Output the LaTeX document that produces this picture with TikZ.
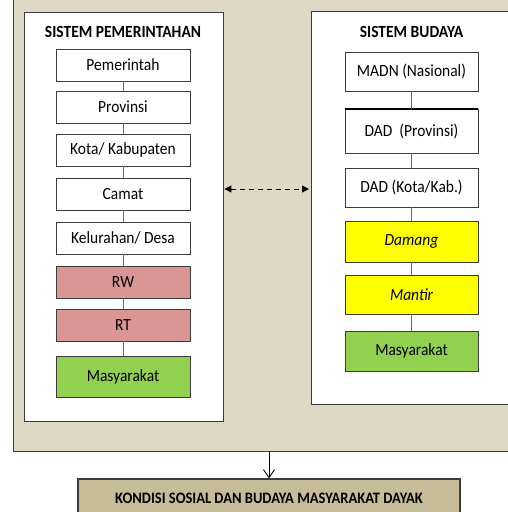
\documentclass[tikz,border=0pt]{standalone}
\usepackage{fontspec}
\usepackage{graphicx}
\setmainfont{Carlito}
\usetikzlibrary{arrows.meta}
\definecolor{outerbg}{RGB}{221,217,196}
\definecolor{tanbox}{RGB}{196,189,151}
\definecolor{pinkbox}{RGB}{217,150,148}
\definecolor{greenbox}{RGB}{146,208,80}
\definecolor{yellowbox}{RGB}{255,255,0}
\definecolor{edge}{RGB}{60,60,60}
\definecolor{link}{RGB}{110,110,110}
\newcommand{\vstr}[1]{\scalebox{1}[1.1]{#1}}
\tikzset{
  panel/.style={draw=edge, line width=0.9pt, fill=white, inner sep=0pt},
  lbox/.style={draw=edge, line width=0.9pt, fill=white, minimum width=134pt, minimum height=32pt, inner sep=0pt, font=\fontsize{15.5}{18}\selectfont},
  rbox/.style={draw=edge, line width=0.9pt, fill=white, minimum width=133pt, minimum height=39pt, inner sep=0pt, font=\fontsize{15.5}{18}\selectfont},
  ttl/.style={font=\fontsize{15.5}{18}\selectfont\bfseries, inner sep=0pt},
  linkline/.style={draw=link, line width=0.9pt},
}
\begin{document}
\begin{tikzpicture}[x=1pt,y=-1pt]
\useasboundingbox (0,0) rectangle (507,512);
\fill[white] (0,0) rectangle (507,512);
% outer beige area
\node[fill=outerbg, minimum width=530pt, minimum height=456pt, inner sep=0pt, anchor=north west] (outer) at (13,-5) {};
\draw[edge, line width=0.9pt] (13,-5) -- (13,451) -- (530,451);
% panels
\node[panel, minimum width=199pt, minimum height=409pt] (lp) at (123.5,216.5) {};
\node[panel, minimum width=220pt, minimum height=393pt, anchor=north west] (rp) at (311,11) {};
% titles
\node[ttl] (lt) at (123,32) {\vstr{SISTEM PEMERINTAHAN}};
\node[ttl] (rt) at (411.5,32) {\vstr{SISTEM BUDAYA}};
% left boxes
\node[lbox] (l1) at (123,65) {\vstr{Pemerintah}};
\node[lbox] (l2) at (123,107) {\vstr{Provinsi}};
\node[lbox] (l3) at (123,150) {\vstr{Kota/ Kabupaten}};
\node[lbox] (l4) at (123,194) {\vstr{Camat}};
\node[lbox] (l5) at (123,238) {\vstr{Kelurahan/ Desa}};
\node[lbox, fill=pinkbox] (l6) at (123,282) {\vstr{RW}};
\node[lbox, fill=pinkbox] (l7) at (123,325) {\vstr{RT}};
\node[lbox, fill=greenbox, minimum height=41pt] (l8) at (123,376.5) {\vstr{Masyarakat}};
\foreach \a/\b in {l1/l2,l2/l3,l3/l4,l4/l5,l5/l6,l6/l7,l7/l8}
  \draw[linkline] (\a.south) -- (\b.north);
% right boxes
\node[rbox] (r1) at (411.5,71.5) {\vstr{MADN (Nasional)}};
\node[rbox, minimum height=44pt] (r2) at (411.5,131) {\vstr{DAD\ \ (Provinsi)}};
\draw[black, line width=2pt] (r2.north west) -- (r2.north east);
\node[rbox] (r3) at (411.5,187.5) {\vstr{DAD (Kota/Kab.)}};
\node[rbox, fill=yellowbox, minimum height=41pt] (r4) at (411.5,241.5) {\vstr{\itshape Damang}};
\node[rbox, fill=yellowbox] (r5) at (411.5,294.5) {\vstr{\itshape Mantir}};
\node[rbox, fill=greenbox, minimum height=40pt] (r6) at (411.5,351) {\vstr{Masyarakat}};
\foreach \a/\b in {r1/r2,r2/r3,r3/r4,r4/r5,r5/r6}
  \draw[linkline] (\a.south) -- (\b.north);
% dashed double arrow
\draw[black, line width=1pt, dash pattern=on 5pt off 4pt, {Triangle[length=7pt,width=7pt]}-{Triangle[length=7pt,width=7pt]}] ([xshift=1pt]lp.east |- 0,189) -- ([xshift=-2pt]rp.west |- 0,189);
% bottom box
\node[draw=edge, line width=1.1pt, fill=tanbox, minimum width=382pt, minimum height=38pt, inner sep=0pt, font=\fontsize{14.5}{17}\selectfont\bfseries] (kb) at (269,498) {\vstr{KONDISI SOSIAL DAN BUDAYA MASYARAKAT DAYAK}};
\draw[black, line width=0.9pt, -{Straight Barb[length=8pt,width=11pt]}] (kb.north |- outer.south) -- (kb.north);
\end{tikzpicture}
\end{document}
